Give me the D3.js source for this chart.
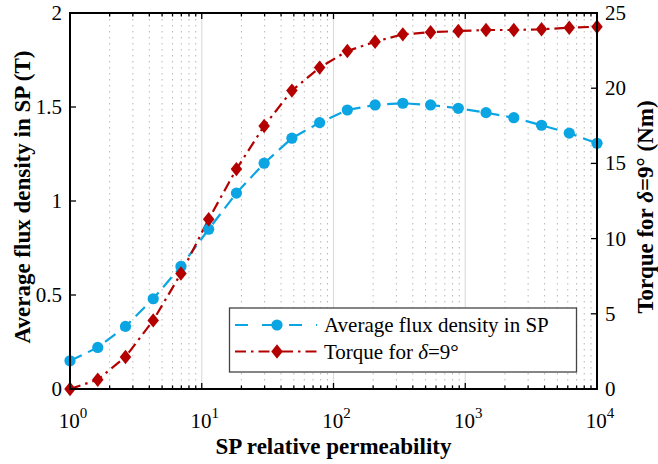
<!DOCTYPE html>
<html><head><meta charset="utf-8">
<script src="https://cdn.jsdelivr.net/npm/d3@7"></script>
</head>
<body style="margin:0"><svg id="c" width="658" height="464"></svg>
<script>
const permeability = [1, 1.624, 2.637, 4.281, 6.952, 11.29, 18.33, 29.76, 48.33, 78.48, 127.4, 206.9, 336.0, 545.6, 885.9, 1438, 2336, 3793, 6158, 10000];
const fluxDensity = [0.150, 0.221, 0.333, 0.480, 0.652, 0.850, 1.042, 1.201, 1.334, 1.417, 1.484, 1.511, 1.520, 1.511, 1.493, 1.470, 1.443, 1.403, 1.361, 1.307];
const torque = [0.0, 0.62, 2.13, 4.56, 7.68, 11.29, 14.62, 17.49, 19.84, 21.37, 22.47, 23.09, 23.58, 23.72, 23.80, 23.87, 23.87, 23.92, 24.02, 24.09];
const leftTicks = [0, 0.5, 1, 1.5, 2];
const rightTicks = [0, 5, 10, 15, 20, 25];
const xDecades = [0, 1, 2, 3, 4];
const seriesNames = ["Average flux density in SP", "Torque for "];

const FONT = "Liberation Serif";
const svg = d3.select("#c");
const txt = (sel) => sel.append("text").attr("font-family", FONT).attr("fill", "#000");
const L = 70, R = 597, T = 13, B = 389;
const x = d3.scaleLog().domain([1, 1e4]).range([L, R]);
const yL = d3.scaleLinear().domain([0, 2]).range([B, T]);
const yR = d3.scaleLinear().domain([0, 25]).range([B, T]);

const blue = "#0aa5e2", red = "#b40000";

// grid
const minors = [];
for (let d = 0; d < 4; d++) for (let k = 2; k <= 9; k++) minors.push(k * Math.pow(10, d));
const g = svg.append("g");
g.selectAll(".mg").data(minors).enter().append("line")
  .attr("x1", d => x(d)).attr("x2", d => x(d)).attr("y1", T).attr("y2", B)
  .attr("stroke", "#b8b8b8").attr("stroke-width", 1).attr("stroke-dasharray", "1.5,4.5");
g.selectAll(".Mg").data([10, 100, 1000]).enter().append("line")
  .attr("x1", d => x(d)).attr("x2", d => x(d)).attr("y1", T).attr("y2", B)
  .attr("stroke", "#dcdcdc").attr("stroke-width", 1.2);

// ticks
const tk = svg.append("g").attr("stroke", "#000").attr("stroke-width", 1.3);
minors.forEach(v => {
  tk.append("line").attr("x1", x(v)).attr("x2", x(v)).attr("y1", B).attr("y2", B - 3.5);
  tk.append("line").attr("x1", x(v)).attr("x2", x(v)).attr("y1", T).attr("y2", T + 3.5);
});
xDecades.forEach(d => {
  const v = Math.pow(10, d);
  tk.append("line").attr("x1", x(v)).attr("x2", x(v)).attr("y1", B).attr("y2", B - 6);
  tk.append("line").attr("x1", x(v)).attr("x2", x(v)).attr("y1", T).attr("y2", T + 6);
});
leftTicks.forEach(v => {
  tk.append("line").attr("x1", L).attr("x2", L + 6).attr("y1", yL(v)).attr("y2", yL(v));
});
rightTicks.forEach(v => {
  tk.append("line").attr("x1", R).attr("x2", R - 6).attr("y1", yR(v)).attr("y2", yR(v));
});

// lines
const lineF = d3.line().x((d, i) => x(permeability[i])).y(d => yL(d));
const lineT = d3.line().x((d, i) => x(permeability[i])).y(d => yR(d));
svg.append("path").datum(fluxDensity).attr("d", lineF).attr("fill", "none")
  .attr("stroke", blue).attr("stroke-width", 2.2).attr("stroke-dasharray", "13,7");
svg.append("path").datum(torque).attr("d", lineT).attr("fill", "none")
  .attr("stroke", red).attr("stroke-width", 2.2).attr("stroke-dasharray", "11,5,2.5,5");

const diamond = s => `M0,${-s}L${s*0.8},0L0,${s}L${-s*0.8},0Z`;
svg.selectAll(".cf").data(fluxDensity).enter().append("circle")
  .attr("cx", (d, i) => x(permeability[i])).attr("cy", d => yL(d)).attr("r", 5.6).attr("fill", blue);
svg.selectAll(".dt").data(torque).enter().append("path")
  .attr("transform", (d, i) => `translate(${x(permeability[i])},${yR(d)})`)
  .attr("d", diamond(7.2)).attr("fill", red);

// frame
svg.append("rect").attr("x", L).attr("y", T).attr("width", R - L).attr("height", B - T)
  .attr("fill", "none").attr("stroke", "#000").attr("stroke-width", 2);

// tick labels
const fs = 21;
leftTicks.forEach(v => {
  txt(svg).attr("x", L - 8).attr("y", yL(v) + 7)
    .attr("text-anchor", "end").attr("font-size", fs).text(d3.format("")(v));
});
rightTicks.forEach(v => {
  txt(svg).attr("x", R + 8).attr("y", yR(v) + 7)
    .attr("text-anchor", "start").attr("font-size", fs).text(v);
});
xDecades.forEach(d => {
  const t = txt(svg).attr("x", x(Math.pow(10, d)) + 3).attr("y", 428)
    .attr("text-anchor", "middle").attr("font-size", fs);
  t.append("tspan").text("10");
  t.append("tspan").attr("dy", -10).attr("font-size", 15).text(d);
});

// axis titles
txt(svg).attr("x", (L + R) / 2).attr("y", 454).attr("text-anchor", "middle")
  .attr("font-size", 23).attr("font-weight", "bold").text("SP relative permeability");
txt(svg).attr("transform", `translate(30,${(T + B) / 2 - 4}) rotate(-90)`)
  .attr("text-anchor", "middle").attr("font-size", 23).attr("font-weight", "bold")
  .text("Average flux density in SP (T)");
const rt = txt(svg).attr("transform", `translate(653,${(T + B) / 2 + 6}) rotate(-90)`)
  .attr("text-anchor", "middle").attr("font-size", 23).attr("font-weight", "bold");
rt.append("tspan").text("Torque for ");
rt.append("tspan").attr("font-style", "italic").text("δ");
rt.append("tspan").text("=9° (Nm)");

// legend
const lg = svg.append("g");
lg.append("rect").attr("x", 229.5).attr("y", 308).attr("width", 347).attr("height", 64)
  .attr("fill", "#fff").attr("stroke", "#444").attr("stroke-width", 1.3);
const rows = [325, 351.5];
lg.append("line").attr("x1", 235).attr("x2", 317).attr("y1", rows[0]).attr("y2", rows[0])
  .attr("stroke", blue).attr("stroke-width", 2.2).attr("stroke-dasharray", "13,14");
lg.append("circle").attr("cx", 277).attr("cy", rows[0]).attr("r", 5.6).attr("fill", blue);
lg.append("line").attr("x1", 235).attr("x2", 317).attr("y1", rows[1]).attr("y2", rows[1])
  .attr("stroke", red).attr("stroke-width", 2.2).attr("stroke-dasharray", "11,5,2.5,5");
lg.append("path").attr("transform", `translate(277,${rows[1]})`).attr("d", diamond(7.2)).attr("fill", red);
const legendText = txt(lg).attr("x", 324).attr("y", rows[0] + 7).attr("font-size", 21).text(seriesNames[0]);
const t2 = txt(lg).attr("x", 324).attr("y", rows[1] + 7).attr("font-size", 21);
t2.append("tspan").text(seriesNames[1]);
t2.append("tspan").attr("font-style", "italic").text("δ");
t2.append("tspan").text("=9°");

// Font check: the legend label has Times-like metrics (~226px at 21px) only when a
// serif face was really picked; otherwise try other serif family names until one resolves.
const candidates = ["Tinos", "Times New Roman", "Nimbus Roman", "FreeSerif", "serif", "Times", "Liberation Serif"];
const probe = legendText.node();
const isTimes = () => { const w = probe.getComputedTextLength(); return w > 212 && w < 238; };
let attemptNo = 0;
function attempt() {
  const f = candidates[attemptNo % candidates.length];
  attemptNo++;
  legendText.attr("font-family", f);
  if (isTimes()) { svg.selectAll("text").attr("font-family", f); return; }
  if (attemptNo < candidates.length * 4) setTimeout(attempt, 20);
  else legendText.attr("font-family", FONT);
}
if (!isTimes()) attempt();
</script></body></html>
